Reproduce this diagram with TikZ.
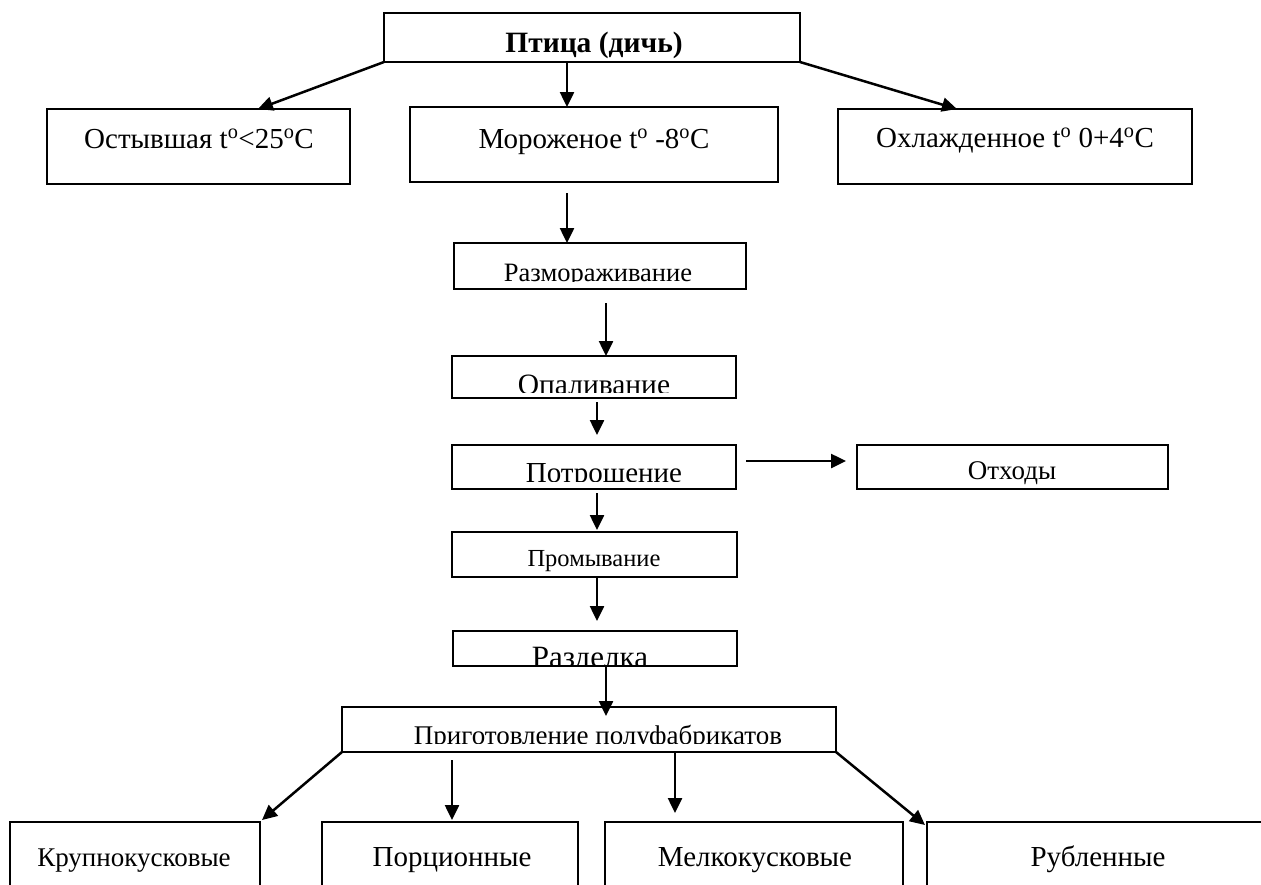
\documentclass[tikz,border=0pt]{standalone}
\usepackage{fontspec}
\setmainfont{Liberation Serif}
\usetikzlibrary{arrows.meta,calc}
\newcommand\szf[1]{\fontsize{#1}{#1}\selectfont}
\begin{document}
\begin{tikzpicture}[x=1pt,y=-1pt,
  box/.style={draw, line width=2pt, inner sep=0pt, outer sep=0pt},
  lbl/.style={inner sep=0pt, anchor=base},
  arr/.style={line width=2.5pt, -{Triangle[length=15pt,width=14pt]}}]
\useasboundingbox[fill=white] (0,0) rectangle (1261,884);

% boxes
\node[box, minimum width=416, minimum height=49] (top) at (592,37.5) {};
\node[box, minimum width=303, minimum height=75] (ost) at (198.5,146.5) {};
\node[box, minimum width=368, minimum height=75] (mor) at (594,144.5) {};
\node[box, minimum width=354, minimum height=75] (ohl) at (1015,146.5) {};
\node[box, minimum width=292, minimum height=46] (raz) at (600,266) {};
\node[box, minimum width=284, minimum height=42] (opa) at (594,377) {};
\node[box, minimum width=284, minimum height=44] (pot) at (594,467) {};
\node[box, minimum width=311, minimum height=44] (oth) at (1012.5,467) {};
\node[box, minimum width=285, minimum height=45] (pro) at (594.5,554.5) {};
\node[box, minimum width=284, minimum height=35] (rzd) at (595,648.5) {};
\node[box, minimum width=494, minimum height=45] (pri) at (589,729.5) {};
\node[box, minimum width=250, minimum height=120] (kru) at (135,882) {};
\node[box, minimum width=256, minimum height=120] (por) at (450,882) {};
\node[box, minimum width=298, minimum height=120] (mel) at (754,882) {};
\node[box, minimum width=380, minimum height=120] (rub) at (1117,882) {};

% labels
\node[lbl, font=\szf{29.5}\bfseries] (top-t) at (594,52) {Птица (дичь)};
\node[lbl, font=\szf{29}] (ost-t) at (199,148) {Остывшая t\textsuperscript{o}<25\textsuperscript{o}C};
\node[lbl, font=\szf{29}] (mor-t) at (594,148) {Мороженое t\textsuperscript{o} -8\textsuperscript{o}C};
\node[lbl, font=\szf{29}] (ohl-t) at (1015,147) {Охлажденное t\textsuperscript{o} 0+4\textsuperscript{o}C};
\begin{scope}
  \clip (raz.north west) rectangle ($(raz.south east)+(0,-8)$);
  \node[lbl, font=\szf{26.5}] (raz-t) at (598,281) {Размораживание};
\end{scope}
\begin{scope}
  \clip (opa.north west) rectangle ($(opa.south east)+(0,-6)$);
  \node[lbl, font=\szf{29.5}] (opa-t) at (594,394) {Опаливание};
\end{scope}
\begin{scope}
  \clip (pot.north west) rectangle ($(pot.south east)+(0,-8)$);
  \node[lbl, font=\szf{29}] (pot-t) at (604,482) {Потрошение};
\end{scope}
\node[lbl, font=\szf{27}] (oth-t) at (1012,479) {Отходы};
\node[lbl, font=\szf{24.5}] (pro-t) at (594,566) {Промывание};
\begin{scope}
  \clip (rzd.north west) rectangle ($(rzd.south east)+(0,-2)$);
  \node[lbl, font=\szf{31}] (rzd-t) at (590,667) {Разделка};
\end{scope}
\begin{scope}
  \clip (pri.north west) rectangle ($(pri.south east)+(0,-9)$);
  \node[lbl, font=\szf{27}] (pri-t) at (598,744) {Приготовление полуфабрикатов};
\end{scope}
\node[lbl, font=\szf{27}] (kru-t) at (134,866) {Крупнокусковые};
\node[lbl, font=\szf{29}] (por-t) at (452,866) {Порционные};
\node[lbl, font=\szf{29}] (mel-t) at (755,866) {Мелкокусковые};
\node[lbl, font=\szf{29}] (rub-t) at (1098,866) {Рубленные};

% connectors
\draw[arr] (top.south -| 567,0) -- (mor.north -| 567,0);
\draw[arr] (top.south west) -- ($(ost.north west)!0.696!(ost.north east)$);
\draw[arr] (top.south east) -- ($(ohl.north west)!0.336!(ohl.north east)$);
\draw[arr] ($(mor.south -| 567,0)+(0,11)$) -- (raz.north -| 567,0);
\draw[arr] ($(raz.south -| 606,0)+(0,14)$) -- (opa.north -| 606,0);
\draw[arr] ($(opa.south -| 597,0)+(0,4)$) -- ($(pot.north -| 597,0)+(0,-10)$);
\draw[arr] ($(pot.east |- 0,461)+(10,0)$) -- ($(oth.west |- 0,461)+(-11,0)$);
\draw[arr] ($(pot.south -| 597,0)+(0,4)$) -- ($(pro.north -| 597,0)+(0,-2)$);
\draw[arr] ($(pro.south -| 597,0)+(0,1)$) -- ($(rzd.north -| 597,0)+(0,-10)$);
\draw[arr] (rzd.south -| 606,0) -- ($(pri.north -| 606,0)+(0,9)$);
\draw[arr] (pri.south west) -- ($(kru.north east)+(2,-2)$);
\draw[arr] ($(pri.south -| 452,0)+(0,8)$) -- ($(por.north -| 452,0)+(0,-2)$);
\draw[arr] (pri.south -| 675,0) -- ($(mel.north -| 675,0)+(0,-9)$);
\draw[arr] (pri.south east) -- ($(rub.north west)+(-2,3)$);
\end{tikzpicture}
\end{document}
